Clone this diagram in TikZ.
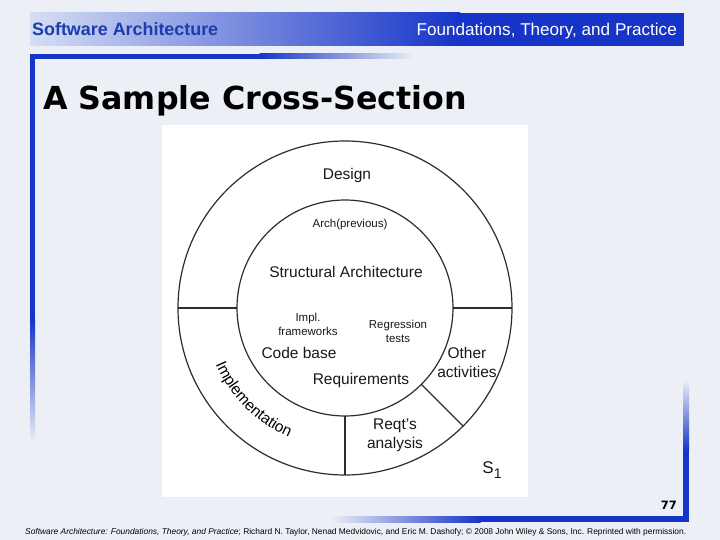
\documentclass[tikz,border=0pt]{standalone}
\usepackage{graphicx}
\usepackage{fontspec}
\setmainfont{Liberation Sans}
\newfontfamily\vfont{DejaVu Sans}
\usetikzlibrary{decorations.text}
\definecolor{bg}{RGB}{236,239,245}
\definecolor{hblue}{RGB}{22,52,200}
\definecolor{hlight}{RGB}{214,222,244}
\definecolor{htext}{RGB}{28,62,172}
\definecolor{ink}{RGB}{25,25,25}
\definecolor{lines}{RGB}{45,45,45}
\begin{document}
\begin{tikzpicture}[x=1pt,y=-1pt,line join=round,
  ring/.style={draw=lines,line width=1.2pt},
  lbl/.style={inner sep=0pt,text=ink,align=center,font=\fontsize{15.5}{19}\selectfont},
  sm/.style={inner sep=0pt,text=ink,align=center,font=\fontsize{11.5}{14}\selectfont}]
\useasboundingbox (0,0) rectangle (720,540);
\fill[bg] (0,0) rectangle (720,540);
% header bar
\shade[left color=hlight,right color=hblue] (30,13) rectangle (460,46);
\fill[hblue] (459.5,13) rectangle (684,46);
\node[anchor=base west,inner sep=0pt,text=htext,font=\fontsize{17.9}{20}\selectfont\bfseries] (hl) at (32,36) {Software Architecture};
\node[anchor=base east,inner sep=0pt,text=white,font=\fontsize{17.1}{20}\selectfont] (hr) at (677,36) {Foundations, Theory, and Practice};
% title frame
\fill[hblue] (30,54) rectangle (260,59);
\shade[left color=hblue,right color=bg] (259.5,54) rectangle (415,59);
\fill[hblue] (30,54) rectangle (35,320);
\shade[top color=hblue,bottom color=bg] (30,319.5) rectangle (35,442);
\shade[left color=bg,right color=hblue] (330,516) rectangle (480.5,522);
\fill[hblue] (480,516) rectangle (689,522);
\shade[top color=bg,bottom color=hblue] (683,380) rectangle (689,450.5);
\fill[hblue] (683,450) rectangle (689,522);
\node[anchor=base west,inner sep=0pt,font=\fontsize{31.7}{36}\selectfont\vfont\bfseries] (title) at (43,109.5) {A Sample Cross-Section};
% white panel
\fill[white] (162,125) rectangle (528,497);
% diagram
\coordinate (c) at (345,308);
\draw[ring] (c) circle[radius=167];
\draw[ring] (c) circle[radius=108];
\coordinate (oL) at (178,308); \coordinate (iL) at (237,308);
\coordinate (iR) at (453,308); \coordinate (oR) at (512,308);
\coordinate (iB) at (345,416); \coordinate (oB) at (345,475);
\coordinate (iD) at (421.4,384.4); \coordinate (oD) at (463.1,426.1);
\draw[ring] (oL) -- (iL);
\draw[ring] (iR) -- (oR);
\draw[ring] (iB) -- (oB);
\draw[ring] (iD) -- (oD);
\begin{scope}[shift={(345pt,-308pt)}]
\path[decorate,decoration={text along path,text align=center,
  text={|\fontsize{15.5}{18}\selectfont|Implementation}}]
  (195:141pt) arc[start angle=195,end angle=255,radius=141pt];
\end{scope}
\node[lbl] (design) at (347,175) {Design};
\node[sm] (archprev) at (350,225) {Arch(previous)};
\node[lbl] (struct) at (346,272) {Structural Architecture};
\node[sm] (impl) at (308,324) {Impl.\\frameworks};
\node[sm] (regr) at (398,331) {Regression\\tests};
\node[lbl] (code) at (299,353) {Code base};
\node[lbl] (req) at (361,380) {Requirements};
\node[lbl] (other) at (467,362) {Other\\activities};
\node[lbl] (reqt) at (395,435) {Reqt's\\analysis};
\node[inner sep=0pt,text=ink,font=\fontsize{17}{20}\selectfont] (s1) at (492,470) {S\raisebox{-5pt}{\fontsize{14}{16}\selectfont 1}};
% footer
\node[anchor=base east,inner sep=0pt,font=\fontsize{11.5}{14}\selectfont\vfont\bfseries] (num) at (677,509) {77};
\node[anchor=base west,inner sep=0pt] (foot) at (25,534) {\resizebox{661pt}{!}{\fontsize{7}{8}\selectfont\textit{Software Architecture: Foundations, Theory, and Practice}; Richard N. Taylor, Nenad Medvidovic, and Eric M. Dashofy; \textcopyright{} 2008 John Wiley \& Sons, Inc. Reprinted with permission.}};
\end{tikzpicture}
\end{document}
